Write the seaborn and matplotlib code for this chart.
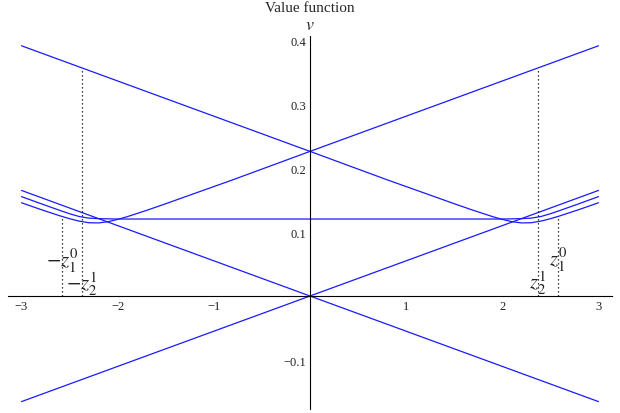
import matplotlib
matplotlib.use("Agg")
import numpy as np
import pandas as pd
import seaborn as sns
import matplotlib.pyplot as plt
from matplotlib.ticker import FixedLocator

# ---- data -------------------------------------------------------------
# straight branches through the origin
line_z = [-3.0, 3.0]
rise_v = [-0.165, 0.165]
fall_v = [0.165, -0.165]

# smoothed branch with its dip on the left, rising to the right
dip_left_z = [-3.0, -2.8, -2.6, -2.5, -2.4, -2.3, -2.2, -2.1, -2.0, -1.9,
              -1.7, -1.5, -1.2, -0.8, 0.0, 3.0]
dip_left_v = [0.1457, 0.1352, 0.1253, 0.1208, 0.1170, 0.1145, 0.1142, 0.1161,
              0.1197, 0.1240, 0.1338, 0.1442, 0.1603, 0.1817, 0.226, 0.391]

# mirror branch with its dip on the right
dip_right_z = [-3.0, 0.0, 0.8, 1.2, 1.5, 1.7, 1.9, 2.0, 2.1, 2.2, 2.3, 2.4,
               2.5, 2.6, 2.8, 3.0]
dip_right_v = [0.391, 0.226, 0.1817, 0.1603, 0.1442, 0.1338, 0.1240, 0.1197,
               0.1161, 0.1142, 0.1145, 0.1170, 0.1208, 0.1253, 0.1352, 0.1457]

# flat middle branch bending up at both ends
flat_z = [-3.0, -2.8, -2.6, -2.5, -2.4, -2.3, -2.2, -2.0,
          2.0, 2.2, 2.3, 2.4, 2.5, 2.6, 2.8, 3.0]
flat_v = [0.1553, 0.1444, 0.1337, 0.1286, 0.1242, 0.1217, 0.1209, 0.1203,
          0.1203, 0.1209, 0.1217, 0.1242, 0.1286, 0.1337, 0.1444, 0.1553]

# thresholds marked by dotted lines: position, height reached, label, label height
mark_z = [-2.58, -2.37, 2.58, 2.37]
mark_top = [0.1244, 0.356, 0.1244, 0.356]
mark_text = [r"$-z_1^0$", r"$-z_2^1$", r"$z_1^0$", r"$z_2^1$"]
mark_text_v = [0.056, 0.020, 0.058, 0.021]

x_major = [-3, -2, -1, 1, 2, 3]
x_labels = ["\u22123", "\u22122", "\u22121", "1", "2", "3"]
y_major = [-0.1, 0.1, 0.2, 0.3, 0.4]
y_labels = ["\u22120.1", "0.1", "0.2", "0.3", "0.4"]

# ---- style ------------------------------------------------------------
sns.set_style("white")
plt.rcParams["font.family"] = ["Liberation Serif", "DejaVu Serif"]
plt.rcParams["mathtext.fontset"] = "stix"

frames = [
    pd.DataFrame({"z": line_z, "v": rise_v, "curve": "rise"}),
    pd.DataFrame({"z": line_z, "v": fall_v, "curve": "fall"}),
    pd.DataFrame({"z": dip_left_z, "v": dip_left_v, "curve": "dip_left"}),
    pd.DataFrame({"z": dip_right_z, "v": dip_right_v, "curve": "dip_right"}),
    pd.DataFrame({"z": flat_z, "v": flat_v, "curve": "flat"}),
]
df = pd.concat(frames, ignore_index=True)

fig = plt.figure(figsize=(6.2, 4.14), dpi=100)
ax = fig.add_axes([0, 0, 1, 1])
ax.set_facecolor("white")

sns.lineplot(data=df, x="z", y="v", hue="curve", estimator=None, sort=False,
             palette={c: "#1a1aff" for c in df["curve"].unique()},
             linewidth=0.9, legend=False, ax=ax)

# dotted threshold lines and their labels
for z, top, txt, tv in zip(mark_z, mark_top, mark_text, mark_text_v):
    ax.plot([z, z], [0, top], color="black", lw=0.9, linestyle=(0, (1, 2.2)))
    ax.text(z, tv, txt, ha="center", va="center", fontsize=15, color="#222222")

ax.set_xlim(-3.2235, 3.2235)
ax.set_ylim(-0.1828, 0.4641)

# axes crossing at the origin
for side in ("top", "right"):
    ax.spines[side].set_visible(False)
ax.spines["left"].set_position(("data", 0))
ax.spines["bottom"].set_position(("data", 0))
ax.spines["bottom"].set_bounds(-3.14, 3.14)
ax.spines["left"].set_bounds(-0.177, 0.406)
for side in ("left", "bottom"):
    ax.spines[side].set_color("black")
    ax.spines[side].set_linewidth(0.8)

ax.set_xticks(x_major, x_labels)
ax.set_yticks(y_major, y_labels)
ax.xaxis.set_minor_locator(FixedLocator(
    [t for t in np.round(np.arange(-3.0, 3.01, 0.2), 2) if abs(t - round(t)) > 1e-6]))
ax.yaxis.set_minor_locator(FixedLocator(
    [t for t in np.round(np.arange(-0.16, 0.401, 0.02), 2) if abs(t * 10 - round(t * 10)) > 1e-6]))
ax.tick_params(axis="both", which="major", direction="in", length=4, width=0.7,
               color="black", labelsize=9, pad=3, labelcolor="#222222")
ax.tick_params(axis="both", which="minor", direction="in", length=2.3, width=0.6,
               color="black")
ax.set_xlabel("")
ax.set_ylabel("")

ax.text(0, 0.4615, "Value function", ha="center", va="top", fontsize=11)
ax.text(0, 0.4375, r"$v$", ha="center", va="top", fontsize=13)

fig.savefig("out.png", dpi=100, facecolor="white")
